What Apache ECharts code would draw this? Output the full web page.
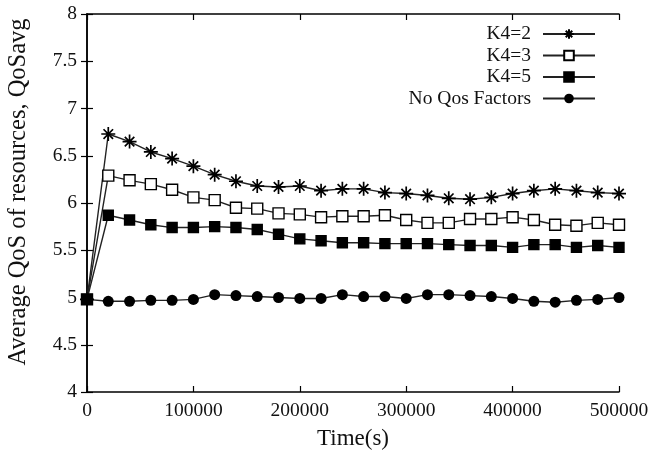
<!DOCTYPE html>
<html>
<head>
<meta charset="utf-8">
<script src="https://cdn.jsdelivr.net/npm/echarts@6/dist/echarts.min.js"></script>
<style>
  html, body { margin: 0; padding: 0; background: #fff; }
  #chart { width: 650px; height: 453px; }
</style>
</head>
<body>
<div id="chart"></div>
<script>
// time (s)
const times = [0, 20000, 40000, 60000, 80000, 100000, 120000, 140000, 160000, 180000, 200000,
  220000, 240000, 260000, 280000, 300000, 320000, 340000, 360000, 380000, 400000,
  420000, 440000, 460000, 480000, 500000];

const k4Is2 = [4.98, 6.73, 6.65, 6.54, 6.47, 6.39, 6.30, 6.23, 6.18, 6.17, 6.18,
  6.13, 6.15, 6.15, 6.11, 6.10, 6.08, 6.05, 6.04, 6.06, 6.10,
  6.13, 6.15, 6.13, 6.11, 6.10];
const k4Is3 = [4.98, 6.29, 6.24, 6.20, 6.14, 6.06, 6.03, 5.95, 5.94, 5.89, 5.88,
  5.85, 5.86, 5.86, 5.87, 5.82, 5.79, 5.79, 5.83, 5.83, 5.85,
  5.82, 5.77, 5.76, 5.79, 5.77];
const k4Is5 = [4.98, 5.87, 5.82, 5.77, 5.74, 5.74, 5.75, 5.74, 5.72, 5.67, 5.62,
  5.60, 5.58, 5.58, 5.57, 5.57, 5.57, 5.56, 5.55, 5.55, 5.53,
  5.56, 5.56, 5.53, 5.55, 5.53];
const noQos = [4.98, 4.96, 4.96, 4.97, 4.97, 4.98, 5.03, 5.02, 5.01, 5.00, 4.99,
  4.99, 5.03, 5.01, 5.01, 4.99, 5.03, 5.03, 5.02, 5.01, 4.99,
  4.96, 4.95, 4.97, 4.98, 5.00];

const xTicks = [0, 500000, 100000];   // min, max, step
const yTicks = [4, 8, 0.5];

const font = "'Liberation Serif', 'DejaVu Serif', serif";
const starPath = "path://M5,0L5,10M0,5L10,5M1.6,1.6L8.4,8.4M8.4,1.6L1.6,8.4";

function pairs(vals) {
  return times.map((t, i) => [t, vals[i]]);
}

function makeSeries(name, vals, symbol, size, fill, bw) {
  return {
    name: name,
    type: "line",
    data: pairs(vals),
    symbol: symbol,
    symbolSize: size,
    showAllSymbol: true,
    lineStyle: { color: "#222", width: 1.4 },
    itemStyle: { color: fill, borderColor: "#000", borderWidth: bw },
    emphasis: { disabled: true },
    animation: false
  };
}

const chart = echarts.init(document.getElementById("chart"));
const baseAxis = {
  type: "value",
  axisLine: { show: true, lineStyle: { color: "#000", width: 1.5 } },
  axisTick: { show: true, inside: true, length: 6, lineStyle: { color: "#000", width: 1.2 } },
  splitLine: { show: false }
};

chart.setOption({
  backgroundColor: "#fff",
  textStyle: { fontFamily: font },
  grid: { left: 87, right: 31, top: 14, bottom: 61, outerBoundsMode: "none" },
  legend: {
    orient: "vertical",
    align: "right",
    right: 49,
    top: 19,
    itemWidth: 52,
    itemHeight: 12,
    itemGap: 1.5,
    textStyle: { fontFamily: font, fontSize: 19.5, lineHeight: 18, color: "#111", padding: [0, 7, 0, 0] },
    data: ["K4=2", "K4=3", "K4=5", "No Qos Factors"]
  },
  xAxis: [
    Object.assign({}, baseAxis, {
      min: xTicks[0], max: xTicks[1], interval: xTicks[2],
      name: "Time(s)", nameLocation: "middle", nameGap: 35,
      nameTextStyle: { fontFamily: font, fontSize: 23, color: "#111" },
      axisLabel: { fontFamily: font, fontSize: 19.5, color: "#111", margin: 9, formatter: v => String(v) }
    }),
    Object.assign({}, baseAxis, {
      position: "top",
      min: xTicks[0], max: xTicks[1], interval: xTicks[2],
      axisLabel: { show: false }
    })
  ],
  yAxis: [
    Object.assign({}, baseAxis, {
      min: yTicks[0], max: yTicks[1], interval: yTicks[2],
      name: "Average QoS of resources, QoSavg", nameLocation: "middle", nameGap: 56,
      nameTextStyle: { fontFamily: font, fontSize: 24.5, color: "#111", padding: [0, 0, 0, 22] },
      axisLabel: { fontFamily: font, fontSize: 19.5, color: "#111", margin: 10 }
    }),
    Object.assign({}, baseAxis, {
      position: "right",
      min: yTicks[0], max: yTicks[1], interval: yTicks[2],
      axisLabel: { show: false }
    })
  ],
  series: [
    makeSeries("K4=2", k4Is2, starPath, 14, "#000", 1.7),
    makeSeries("K4=3", k4Is3, "rect", 11, "#fff", 1.4),
    makeSeries("K4=5", k4Is5, "rect", 10, "#000", 1.4),
    makeSeries("No Qos Factors", noQos, "circle", 11, "#000", 0)
  ]
});
</script>
</body>
</html>
